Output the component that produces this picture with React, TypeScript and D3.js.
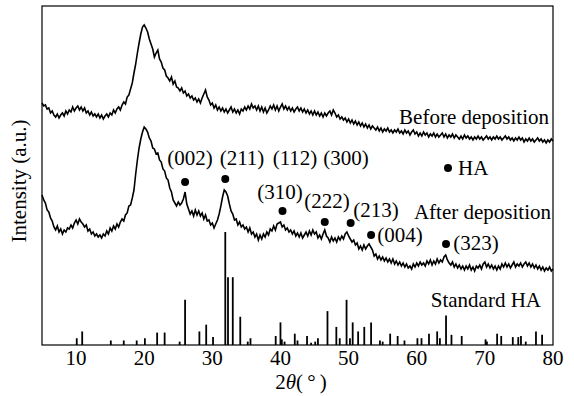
import React from 'react';
import * as d3 from 'd3';

// XRD scan grid: 5°–80° in 0.25° steps
const ANGLE_START = 5;
const ANGLE_STEP = 0.25;

const beforeDeposition = [
  297,294,295,291,292,287,289,285, 283,286,282,285,287,284,289,286,
  290,288,293,289,292,294,290,293, 289,292,287,289,285,288,284,286,
  283,286,282,285,281,284,286,283, 287,285,290,287,291,293,290,295,
  298,296,303,305,311,317,327,336, 347,357,366,373,375,372,368,361,
  356,351,343,347,350,341,338,332, 330,324,322,319,323,316,319,313,
  312,309,312,307,309,304,306,302, 304,300,302,298,301,297,302,306,
  310,303,300,295,297,292,295,290, 293,289,292,288,291,287,290,293,
  288,291,287,290,286,291,289,293, 290,294,291,296,292,294,290,294,
  289,293,288,292,287,290,294,291, 295,290,294,289,293,296,291,294,
  290,293,289,292,288,291,293,289, 292,288,291,287,290,286,289,285,
  289,285,288,284,287,283,287,284, 287,289,285,290,287,283,285,281,
  283,280,282,278,281,277,280,276, 279,275,278,274,277,273,276,272,
  275,271,274,272,270,273,269,272, 268,271,269,272,268,270,267,270,
  268,271,267,269,266,270,267,269, 265,268,270,266,268,264,267,264,
  268,265,267,263,266,264,267,263, 266,263,265,267,263,266,262,265,
  263,266,262,265,263,261,264,261, 265,262,264,261,263,260,263,261,
  264,261,263,260,262,264,261,263, 260,263,261,264,261,263,260,262,
  264,261,263,260,262,259,262,260, 263,260,262,258,261,259,262,259,
  261,258,260,262,259,261,258,260, 257,260,258,261,259,
];

const afterDeposition = [
  205,200,197,190,188,182,179,173, 170,174,168,171,166,170,168,172,
  171,175,172,177,180,176,181,178, 176,173,175,169,171,166,168,164,
  166,163,165,162,166,164,169,166, 172,169,174,171,176,173,178,181,
  179,185,187,194,195,202,210,226, 240,252,261,268,273,271,268,262,
  259,252,251,246,247,240,238,231, 229,222,220,212,208,200,197,194,
  198,195,197,201,208,196,191,186, 189,184,190,185,189,184,187,181,
  185,179,180,175,177,172,176,180, 186,194,203,210,208,204,196,189,
  186,180,181,175,178,173,175,171, 173,168,172,166,168,163,166,160,
  165,161,166,163,168,165,171,169, 174,170,176,177,178,173,175,170,
  172,168,170,166,169,164,167,163, 167,162,165,168,164,169,165,170,
  166,168,162,165,161,166,170,164, 162,158,163,159,162,158,163,160,
  164,161,166,168,164,161,158,160, 155,157,151,154,150,155,151,154,
  156,153,150,144,146,141,144,140, 143,139,142,138,141,137,141,136,
  139,135,138,134,137,133,136,132, 134,131,136,133,137,134,138,135,
  137,134,139,136,140,135,139,136, 141,137,140,138,143,145,140,137,
  135,138,133,136,132,135,131,134, 130,134,131,135,130,133,129,134,
  132,135,131,136,138,133,136,132, 135,131,134,130,134,131,136,133,
  137,133,136,132,135,138,133,136, 134,137,133,136,138,134,137,133,
  136,132,135,131,134,130,133,129, 132,130,133,129,131,
];

// Standard HA reference pattern (relative intensity, %)
const stdAngles = [
  10.1,10.9,15.1,17.0,18.9,20.1,21.9,23.0,25.2,26.0,28.1,29.1,30.1,31.9,32.3,33.0,34.1,35.2,35.6,
  39.3,40.0,40.2,40.6,42.1,42.5,43.9,44.5,45.1,45.5,46.9,48.2,48.7,49.7,50.2,50.6,51.4,52.3,53.3,
  54.6,55.0,56.1,57.2,58.2,60.1,60.7,61.8,63.0,63.4,64.3,65.1,66.6,70.1,70.3,71.8,72.4,74.1,74.9,
  75.3,76.0,77.5,78.4,
];
const stdIntensity = [
  6,12,4,4,4,6,11,11,3,40,12,18,7,100,60,60,25,3,6,
  8,20,5,3,10,4,8,2,3,6,30,16,6,40,6,20,12,16,20,
  4,3,10,8,4,6,6,10,12,6,26,9,8,5,3,10,8,7,7,
  8,3,12,9,
];

// HA peak markers on the "after deposition" pattern
const markerLabels = ['(002)', '(211)', '(310)', '(222)', '(213)', '(004)', '(323)'];
const markerAngles = [26.0, 31.9, 40.3, 46.5, 50.3, 53.3, 64.3];
const markerIntensity = [218, 221, 189, 178, 177, 165, 156];
const extraLabels = ['(112)', '(300)'];

const xTicks = [10, 20, 30, 40, 50, 60, 70, 80];

const FONT = "Liberation Serif";

export default function App() {
  const W = 574, H = 396;
  const L = 42, R = 553, T = 6, B = 345;
  const x = d3.scaleLinear().domain([5, 80]).range([L, R]);
  const y = d3.scaleLinear().domain([55, 394]).range([B, T]);
  const yStd = d3.scaleLinear().domain([0, 100]).range([B, 232]);

  const angleAt = (i: number) => ANGLE_START + i * ANGLE_STEP;
  const line = d3.line<number>().x((_, i) => x(angleAt(i))).y(d => y(d));

  // label layout: [text-center x, baseline y] in px
  const markerLabelPos: [number, number][] = [
    [190, 165], [242, 165], [280, 199], [327, 208], [376, 217], [400, 242], [476, 250],
  ];
  const extraLabelPos: [number, number][] = [[295, 165], [346, 165]];

  const fs = 21;
  return (
    <svg width={W} height={H} style={{ position: 'absolute', left: 0, top: 0, background: '#fff' }}
      fontFamily={FONT}>
      <rect x={0} y={0} width={W} height={H} fill="#fff" />
      {/* standard sticks */}
      <g stroke="#000" strokeWidth={1.8}>
        {stdAngles.map((a, i) => (
          <line key={i} x1={x(a)} x2={x(a)} y1={yStd(0)} y2={yStd(stdIntensity[i])} />
        ))}
      </g>
      <path d={line(beforeDeposition) || ''} fill="none" stroke="#000" strokeWidth={1.6} strokeLinejoin="miter" />
      <path d={line(afterDeposition) || ''} fill="none" stroke="#000" strokeWidth={1.6} strokeLinejoin="miter" />
      {/* frame */}
      <rect x={L} y={T} width={R - L} height={B - T} fill="none" stroke="#000" strokeWidth={1.2} />
      {/* markers */}
      {markerAngles.map((a, i) => (
        <circle key={i} cx={x(a)} cy={y(markerIntensity[i])} r={4} fill="#000" />
      ))}
      <g fontSize={fs} textAnchor="middle" fill="#000">
        {markerLabels.map((t, i) => (
          <text key={t} x={markerLabelPos[i][0]} y={markerLabelPos[i][1]}>{t}</text>
        ))}
        {extraLabels.map((t, i) => (
          <text key={t} x={extraLabelPos[i][0]} y={extraLabelPos[i][1]}>{t}</text>
        ))}
      </g>
      {/* legend */}
      <circle cx={448} cy={168} r={4} fill="#000" />
      <text x={458} y={175} fontSize={fs}>HA</text>
      <text x={549} y={124} fontSize={fs} textAnchor="end">Before deposition</text>
      <text x={551} y={219} fontSize={fs} textAnchor="end">After deposition</text>
      <text x={541} y={307} fontSize={fs} textAnchor="end">Standard HA</text>
      {/* x ticks */}
      <g fontSize={fs} textAnchor="middle">
        {xTicks.map(t => (
          <text key={t} x={x(t)} y={365}>{t}</text>
        ))}
      </g>
      <text x={301} y={389} fontSize={fs} textAnchor="middle">
        2<tspan fontStyle="italic">θ</tspan>({'\u2009'}°{'\u2009'})
      </text>
      <text transform="translate(26,181) rotate(-90)" fontSize={fs} textAnchor="middle">Intensity (a.u.)</text>
    </svg>
  );
}
